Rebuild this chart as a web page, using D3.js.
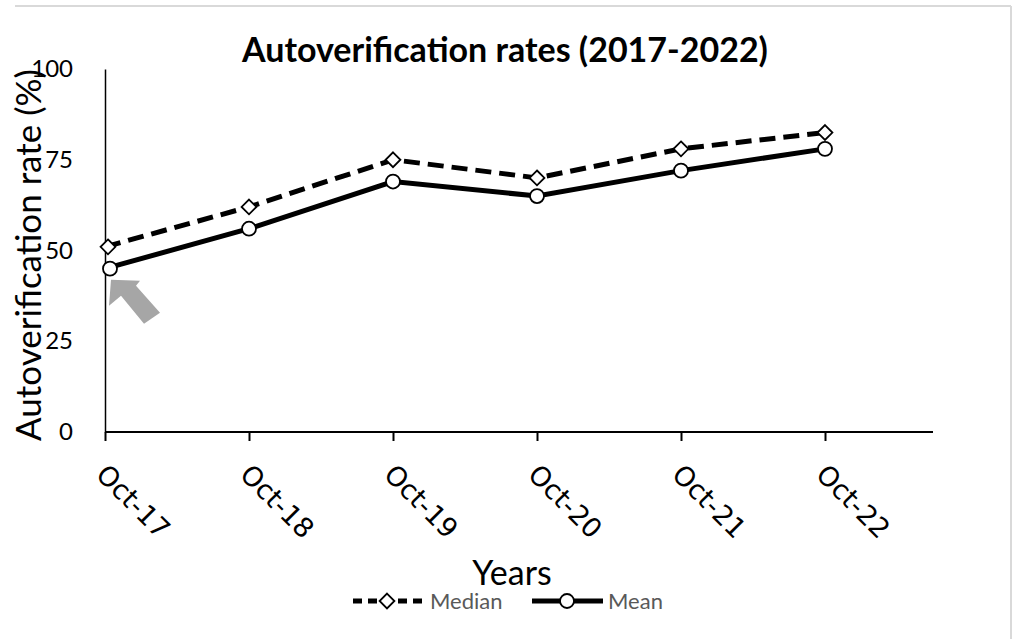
<!DOCTYPE html>
<html>
<head>
<meta charset="utf-8">
<script src="https://cdn.jsdelivr.net/npm/d3@7"></script>
<style>
  body { margin: 0; background: #fff; }
  svg { display: block; }
</style>
</head>
<body>
<svg id="chart" width="1016" height="639"></svg>
<script>
const categories = ['Oct-17', 'Oct-18', 'Oct-19', 'Oct-20', 'Oct-21', 'Oct-22'];
const medianValues = [51, 62, 75, 70, 78, 82.5];
const meanValues = [45, 56, 69, 65, 72, 78];
const yTicks = [0, 25, 50, 75, 100];

const svg = d3.select('#chart');
const plotLeft = 105, plotRight = 933, plotTop = 69, plotBottom = 432;
const catStep = 144;
const font = 'Lato, "Open Sans", sans-serif';

const x = d3.scalePoint().domain(categories).range([plotLeft, plotLeft + catStep * (categories.length - 1)]);
const y = d3.scaleLinear().domain([0, 100]).range([plotBottom, plotTop]);

// frame
svg.append('line').attr('x1', 15).attr('x2', 1011).attr('y1', 6).attr('y2', 6)
  .attr('stroke', '#d9d9d9').attr('stroke-width', 2);
svg.append('line').attr('x1', 1011).attr('x2', 1011).attr('y1', 6).attr('y2', 639)
  .attr('stroke', '#d9d9d9').attr('stroke-width', 2);

// title
svg.append('text').attr('x', 505).attr('y', 62).attr('text-anchor', 'middle')
  .style('font-family', font).attr('font-weight', 'bold')
  .attr('font-size', 34).attr('fill', '#000').text('Autoverification rates (2017-2022)');

// y axis
const yAxis = svg.append('g').attr('transform', `translate(${plotLeft},0)`)
  .call(d3.axisLeft(y).tickValues(yTicks).tickSize(0).tickPadding(32));
yAxis.select('.domain').attr('stroke', '#000').attr('stroke-width', 1.5);
yAxis.selectAll('text').style('font-family', font)
  .attr('font-size', 24).attr('fill', '#000');

// x axis
const xAxis = svg.append('g').attr('transform', `translate(0,${plotBottom})`)
  .call(d3.axisBottom(x).tickSize(9).tickSizeOuter(0));
xAxis.select('.domain').attr('d', `M${plotLeft},0H${plotRight}`).attr('stroke', '#000').attr('stroke-width', 2);
xAxis.selectAll('.tick line').attr('stroke', '#000').attr('stroke-width', 2);
xAxis.selectAll('text')
  .style('font-family', '"DejaVu Sans", Verdana, sans-serif').attr('font-size', 27).attr('fill', '#000')
  .attr('text-anchor', 'start').attr('dy', 0).attr('y', 0)
  .attr('transform', 'translate(-11,44) rotate(45)');

// axis titles
svg.append('text').attr('transform', 'translate(41,255) rotate(-90)')
  .attr('text-anchor', 'middle').style('font-family', font)
  .attr('font-size', 35).attr('fill', '#000').text('Autoverification rate (%)');
svg.append('text').attr('x', 512).attr('y', 585).attr('text-anchor', 'middle')
  .style('font-family', font)
  .attr('font-size', 34).attr('fill', '#000').text('Years');

// lines
const line = d3.line().x((d, i) => x(categories[i])).y(d => y(d));
svg.append('path').datum(medianValues).attr('d', line).attr('fill', 'none')
  .attr('stroke', '#000').attr('stroke-width', 5).attr('stroke-dasharray', '16,8');
svg.append('path').datum(meanValues).attr('d', line).attr('fill', 'none')
  .attr('stroke', '#000').attr('stroke-width', 5);

const diamond = d3.symbol().type(d3.symbolDiamond2).size(140);
svg.selectAll('.med').data(medianValues).join('path')
  .attr('transform', (d, i) => `translate(${x(categories[i]) + (i === 0 ? 3 : 0)},${y(d)})`)
  .attr('d', diamond).attr('fill', '#fff').attr('stroke', '#000').attr('stroke-width', 1.8);
svg.selectAll('.mean').data(meanValues).join('circle')
  .attr('cx', (d, i) => x(categories[i]) + (i === 0 ? 5 : 0)).attr('cy', d => y(d))
  .attr('r', 7).attr('fill', '#fff').attr('stroke', '#000').attr('stroke-width', 1.8);

// grey arrow pointing at the first mean point
const ax = x(categories[0]) + 6, ay = y(meanValues[0]) + 11;
const arrowPts = [[0, 0], [-2, 26], [10, 16], [33, 44], [49, 33], [25, 6], [29, 1]]
  .map(p => [ax + p[0], ay + p[1]]);
svg.append('polygon').attr('points', arrowPts.map(p => p.join(',')).join(' '))
  .attr('fill', '#a6a6a6');

// legend
const ly = 601;
svg.append('line').attr('x1', 353).attr('x2', 422).attr('y1', ly).attr('y2', ly)
  .attr('stroke', '#000').attr('stroke-width', 5).attr('stroke-dasharray', '9,6');
svg.append('path').attr('transform', `translate(387,${ly})`).attr('d', diamond)
  .attr('fill', '#fff').attr('stroke', '#000').attr('stroke-width', 1.8);
svg.append('text').attr('x', 430).attr('y', 609).style('font-family', font)
  .attr('font-size', 22).attr('fill', '#595959').text('Median');
svg.append('line').attr('x1', 532).attr('x2', 603).attr('y1', ly).attr('y2', ly)
  .attr('stroke', '#000').attr('stroke-width', 5);
svg.append('circle').attr('cx', 567).attr('cy', ly).attr('r', 7)
  .attr('fill', '#fff').attr('stroke', '#000').attr('stroke-width', 1.8);
svg.append('text').attr('x', 608).attr('y', 609).style('font-family', font)
  .attr('font-size', 22).attr('fill', '#595959').text('Mean');
</script>
</body>
</html>
